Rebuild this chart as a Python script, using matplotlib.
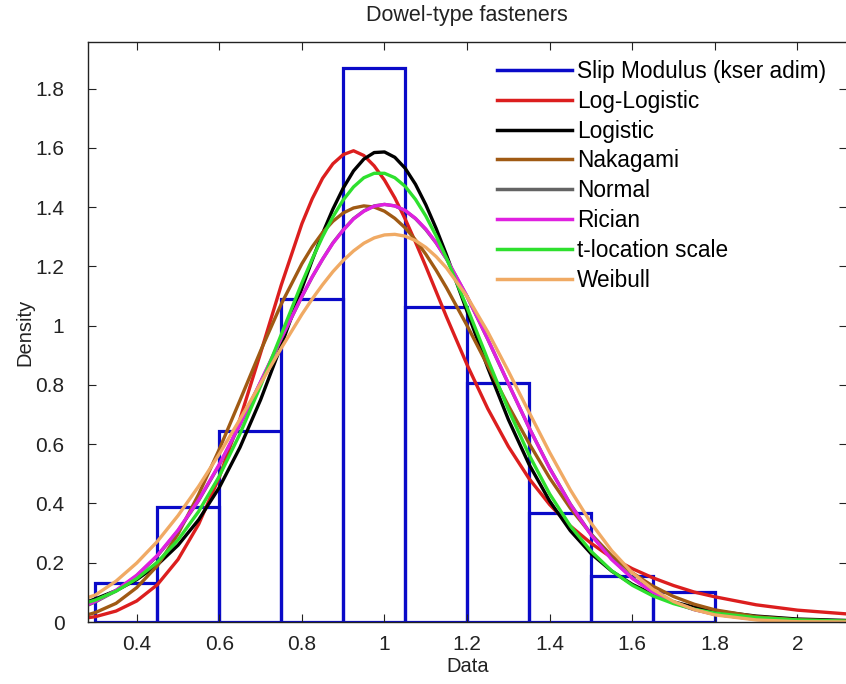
import numpy as np
import matplotlib
matplotlib.use("Agg")
from matplotlib import pyplot as plt
from matplotlib.lines import Line2D
from matplotlib.ticker import FuncFormatter

plt.rcParams['font.family'] = ['Liberation Sans', 'DejaVu Sans']

# histogram of the data (density)
bin_edges = [0.3, 0.45, 0.6, 0.75, 0.9, 1.05, 1.2, 1.35, 1.5, 1.65, 1.8]
bin_density = [0.133, 0.389, 0.646, 1.089, 1.869, 1.062, 0.806, 0.367, 0.155, 0.100]

# fitted densities
x_grid = [0.28, 0.3, 0.35, 0.4, 0.45, 0.5, 0.55, 0.6, 0.65, 0.7, 0.75, 0.8,
          0.825, 0.85, 0.875, 0.9, 0.925, 0.95, 0.975, 1.0, 1.025, 1.05, 1.075, 1.1,
          1.125, 1.15, 1.2, 1.25, 1.3, 1.35, 1.4, 1.45, 1.5, 1.55, 1.6, 1.65, 1.7,
          1.75, 1.8, 1.9, 2.0, 2.15]
log_logistic = [0.014, 0.018, 0.037, 0.071, 0.126, 0.211, 0.330, 0.489, 0.685, 0.908,
                1.137, 1.344, 1.428, 1.497, 1.546, 1.577, 1.590, 1.574, 1.539, 1.491,
                1.431, 1.360, 1.282, 1.200, 1.115, 1.030, 0.868, 0.720, 0.592, 0.484,
                0.396, 0.324, 0.266, 0.217, 0.180, 0.149, 0.123, 0.101, 0.085, 0.058,
                0.040, 0.024]
logistic = [0.068, 0.078, 0.106, 0.143, 0.193, 0.259, 0.345, 0.454, 0.589, 0.750,
            0.933, 1.126, 1.221, 1.311, 1.393, 1.464, 1.522, 1.562, 1.584, 1.586,
            1.568, 1.531, 1.477, 1.408, 1.328, 1.239, 1.048, 0.858, 0.683, 0.532,
            0.408, 0.308, 0.231, 0.172, 0.127, 0.093, 0.068, 0.050, 0.037, 0.020,
            0.010, 0.004]
nakagami = [0.024, 0.032, 0.063, 0.116, 0.190, 0.297, 0.431, 0.583, 0.748, 0.915,
            1.073, 1.209, 1.266, 1.314, 1.352, 1.380, 1.397, 1.404, 1.400, 1.386,
            1.362, 1.330, 1.289, 1.241, 1.187, 1.128, 1.000, 0.865, 0.730, 0.603,
            0.486, 0.384, 0.297, 0.224, 0.166, 0.121, 0.086, 0.060, 0.041, 0.018,
            0.007, 0.002]
normal = [0.056, 0.068, 0.105, 0.156, 0.223, 0.308, 0.410, 0.530, 0.665, 0.809,
          0.956, 1.098, 1.164, 1.224, 1.279, 1.323, 1.361, 1.387, 1.404, 1.409,
          1.404, 1.388, 1.361, 1.324, 1.279, 1.225, 1.098, 0.954, 0.804, 0.656,
          0.519, 0.398, 0.296, 0.213, 0.149, 0.101, 0.066, 0.042, 0.026, 0.009,
          0.003, 0.000]
rician = [0.058, 0.070, 0.107, 0.158, 0.225, 0.310, 0.412, 0.532, 0.667, 0.811,
          0.958, 1.099, 1.165, 1.224, 1.278, 1.322, 1.360, 1.386, 1.403, 1.409,
          1.404, 1.389, 1.362, 1.326, 1.280, 1.226, 1.099, 0.955, 0.805, 0.656,
          0.518, 0.397, 0.294, 0.211, 0.147, 0.100, 0.065, 0.042, 0.026, 0.009,
          0.003, 0.000]
t_location = [0.066, 0.074, 0.104, 0.146, 0.202, 0.277, 0.373, 0.492, 0.635, 0.797,
              0.970, 1.144, 1.225, 1.300, 1.367, 1.424, 1.468, 1.499, 1.514, 1.514,
              1.499, 1.470, 1.426, 1.370, 1.303, 1.228, 1.061, 0.886, 0.717, 0.564,
              0.432, 0.324, 0.239, 0.173, 0.124, 0.088, 0.062, 0.043, 0.030, 0.015,
              0.007, 0.002]
weibull = [0.082, 0.091, 0.138, 0.199, 0.272, 0.359, 0.458, 0.567, 0.684, 0.805,
           0.924, 1.038, 1.090, 1.138, 1.182, 1.220, 1.252, 1.278, 1.296, 1.306,
           1.308, 1.302, 1.287, 1.264, 1.233, 1.195, 1.098, 0.979, 0.846, 0.708,
           0.572, 0.446, 0.334, 0.241, 0.166, 0.110, 0.069, 0.042, 0.024, 0.007,
           0.001, 0.000]

fits = [
    ("Log-Logistic", log_logistic, "#dc1e1e"),
    ("Logistic", logistic, "#000000"),
    ("Nakagami", nakagami, "#a05a14"),
    ("Normal", normal, "#646464"),
    ("Rician", rician, "#e020e0"),
    ("t-location scale", t_location, "#2ee02e"),
    ("Weibull", weibull, "#f0aa64"),
]
data_color = "#0a0ac8"

fig = plt.figure(figsize=(8.46, 6.84), dpi=100)
ax = fig.add_axes([88 / 846, 62 / 684, 759 / 846, 580 / 684])

ax.bar(bin_edges[:-1], bin_density, width=np.diff(bin_edges), align='edge',
       fill=False, edgecolor=data_color, linewidth=2.3)

handles = [Line2D([], [], color=data_color, linewidth=2.5)]
labels = ["Slip Modulus (kser adim)"]
for name, vals, col in fits:
    ax.plot(x_grid, vals, color=col, linewidth=2.4)
    handles.append(Line2D([], [], color=col, linewidth=2.5))
    labels.append(name)

ax.set_xlim(0.282, 2.12)
ax.set_ylim(0, 1.957)
ax.set_xticks([0.4, 0.6, 0.8, 1.0, 1.2, 1.4, 1.6, 1.8, 2.0])
ax.set_yticks([0, 0.2, 0.4, 0.6, 0.8, 1.0, 1.2, 1.4, 1.6, 1.8])
fmt = FuncFormatter(lambda v, p: "%g" % round(v, 2))
ax.xaxis.set_major_formatter(fmt)
ax.yaxis.set_major_formatter(fmt)
ax.tick_params(direction='in', top=True, right=True, length=6, width=0.8,
               labelsize=15, colors='#222222')
ax.tick_params(axis='x', pad=9)
ax.tick_params(axis='y', pad=17)
for s in ax.spines.values():
    s.set_linewidth(1.0)
    s.set_color('#222222')

ax.set_xlabel("Data", fontsize=14.5, color='#222222')
ax.xaxis.set_label_coords(0.5, -0.06)
ax.set_ylabel("Density", fontsize=14.5, color='#222222')
ax.yaxis.set_label_coords(-0.07, 0.5)
fig.text(467 / 846, 1 - 16 / 684, "Dowel-type fasteners", fontsize=15.5,
         ha='center', va='center', color='#222222')

ax.legend(handles, labels, loc='upper left', bbox_to_anchor=(497 / 846, 1 - 60 / 684),
          bbox_transform=fig.transFigure, frameon=False, fontsize=16.3,
          handlelength=3.3, handletextpad=0.25, labelspacing=0.3, borderpad=0,
          borderaxespad=0)

fig.savefig("out.png", dpi=100)
